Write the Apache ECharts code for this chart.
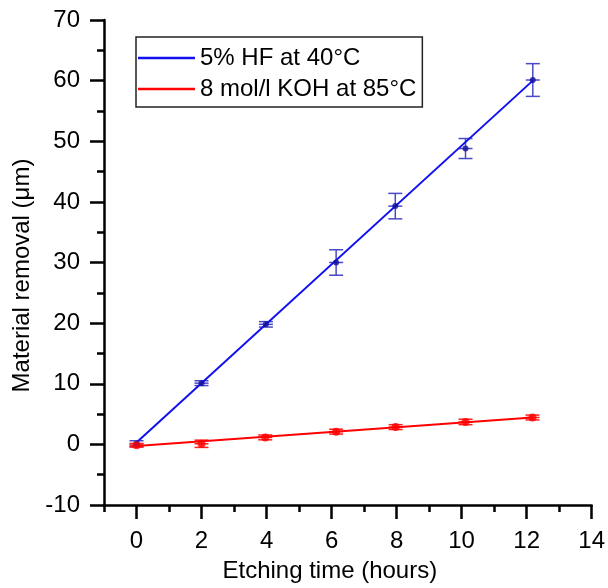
<!DOCTYPE html>
<html><head><meta charset="utf-8">
<script src="https://cdn.jsdelivr.net/npm/echarts@6/dist/echarts.min.js"></script>
<style>html,body{margin:0;padding:0;background:#fff}#c{width:608px;height:588px}</style>
</head><body><div id="c"></div>
<script>
// ---- data ----
const hfTime = [0, 2, 3.98, 6.14, 7.96, 10.12, 12.19];
const hfRemoval = [0.1, 10.1, 19.8, 30.0, 39.3, 48.8, 60.1];
const hfError = [0.5, 0.4, 0.45, 2.1, 2.1, 1.65, 2.7];
const kohTime = [0, 2, 3.96, 6.14, 7.97, 10.12, 12.18];
const kohRemoval = [-0.15, 0.1, 1.15, 2.1, 2.85, 3.7, 4.43];
const kohError = [0.3, 0.6, 0.4, 0.4, 0.4, 0.45, 0.4];
const hfFitX = [0, 12.19];
const hfFitY = [0.3, 60.0];
const kohFitX = [0, 12.18];
const kohFitY = [-0.25, 4.45];
const xMajorTicks = [0, 2, 4, 6, 8, 10, 12, 14];
const legendNames = ['5% HF at 40\u00B0C', '8 mol/l KOH at 85\u00B0C'];

const FONT = 'Liberation Sans, Arial, sans-serif';
const FS = 24;
const zip = (a, b) => a.map((v, i) => [v, b[i]]);
const zip3 = (a, b, c) => a.map((v, i) => [v, b[i], c[i]]);

function errRender(color, halfW) {
  return function (params, api) {
    const x = api.value(0), y = api.value(1), e = api.value(2);
    const t = api.coord([x, y + e]), b = api.coord([x, y - e]), m = api.coord([x, y]);
    const style = { stroke: color, lineWidth: 1.5, fill: null };
    return {
      type: 'group', children: [
        { type: 'line', shape: { x1: t[0], y1: t[1], x2: b[0], y2: b[1] }, style },
        { type: 'line', shape: { x1: t[0] - halfW, y1: t[1], x2: t[0] + halfW, y2: t[1] }, style },
        { type: 'line', shape: { x1: b[0] - halfW, y1: b[1], x2: b[0] + halfW, y2: b[1] }, style },
        { type: 'line', shape: { x1: m[0] - halfW, y1: m[1], x2: m[0] + halfW, y2: m[1] }, style }
      ]
    };
  };
}

const chart = echarts.init(document.getElementById('c'), null, { renderer: 'canvas' });
chart.setOption({
  animation: false,
  backgroundColor: '#fff',
  textStyle: { fontFamily: FONT },
  grid: { left: 104, right: 11, top: 20, bottom: 80, containLabel: false },
  legend: {
    data: legendNames,
    orient: 'vertical',
    left: 136, top: 37,
    icon: 'rect',
    itemWidth: 57, itemHeight: 2.5, itemGap: 5,
    padding: [8, 6, 5, 2],
    borderColor: '#222', borderWidth: 1.5,
    textStyle: { fontSize: FS, color: '#000', fontFamily: FONT, lineHeight: 26 }
  },
  xAxis: [
    {
      type: 'value', min: -1, max: 14, interval: 1,
      position: 'bottom',
      name: 'Etching time (hours)', nameLocation: 'middle', nameGap: 54,
      nameTextStyle: { fontSize: FS, color: '#000', fontFamily: FONT, padding: [0, 36, 0, 0] },
      axisLine: { show: true, onZero: false, lineStyle: { color: '#000', width: 2.5 } },
      axisTick: { show: true, length: 14, inside: false, customValues: xMajorTicks, lineStyle: { color: '#000', width: 2.5 } },
      axisLabel: { show: true, customValues: xMajorTicks, fontSize: FS, color: '#000', margin: 24, fontFamily: FONT },
      splitLine: { show: false }
    },
    {
      type: 'value', min: -1, max: 14, interval: 1,
      position: 'bottom',
      axisLine: { show: false, onZero: false },
      axisTick: { show: true, length: 7, lineStyle: { color: '#000', width: 2.5 } },
      axisLabel: { show: false },
      splitLine: { show: false }
    }
  ],
  yAxis: {
    type: 'value', min: -10, max: 70, interval: 10,
    name: 'Material removal (\u03BCm)', nameLocation: 'middle', nameGap: 65,
    nameTextStyle: { fontSize: FS, color: '#000', fontFamily: FONT, padding: [0, 26, 0, 0] },
    axisLine: { show: true, onZero: false, lineStyle: { color: '#000', width: 2.5 } },
    axisTick: { show: true, length: 14, lineStyle: { color: '#000', width: 2.5 } },
    minorTick: { show: true, splitNumber: 2, length: 7, lineStyle: { color: '#000', width: 2.5 } },
    axisLabel: { fontSize: FS, color: '#000', margin: 24, fontFamily: FONT },
    splitLine: { show: false }
  },
  series: [
    {
      name: legendNames[0], type: 'line', data: zip(hfFitX, hfFitY),
      symbol: 'none', showSymbol: false, z: 4,
      lineStyle: { color: '#1010f0', width: 2 }, itemStyle: { color: '#1010f0' }
    },
    {
      name: legendNames[1], type: 'line', data: zip(kohFitX, kohFitY),
      symbol: 'none', showSymbol: false, z: 4,
      lineStyle: { color: '#ff0000', width: 2 }, itemStyle: { color: '#ff0000' }
    },
    {
      name: 'hfErr', type: 'custom', data: zip3(hfTime, hfRemoval, hfError),
      renderItem: errRender('#4a4ac8', 7), encode: { x: 0, y: 1 }, z: 3
    },
    {
      name: 'kohErr', type: 'custom', data: zip3(kohTime, kohRemoval, kohError),
      renderItem: errRender('#ff2020', 7), encode: { x: 0, y: 1 }, z: 3
    },
    {
      name: 'hfPts', type: 'scatter', data: zip(hfTime, hfRemoval),
      symbol: 'circle', symbolSize: 6, z: 5, itemStyle: { color: '#10109a' }
    },
    {
      name: 'kohPts', type: 'scatter', data: zip(kohTime, kohRemoval),
      symbol: 'circle', symbolSize: 8, z: 5, itemStyle: { color: '#ff0000' }
    }
  ]
});
</script></body></html>
